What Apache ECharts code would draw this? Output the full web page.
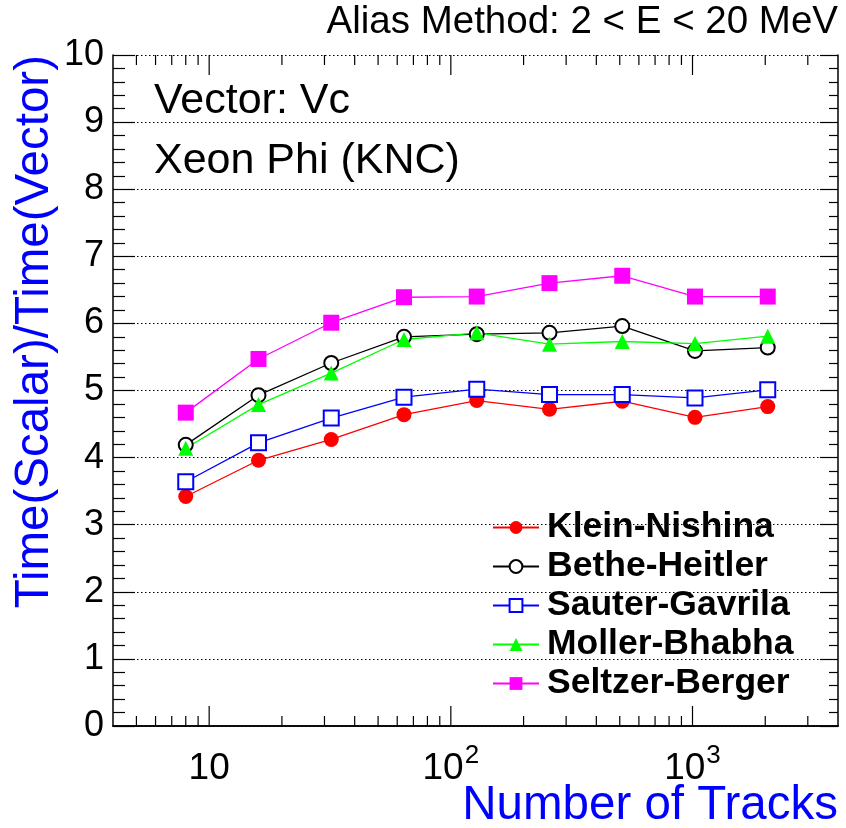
<!DOCTYPE html>
<html>
<head>
<meta charset="utf-8">
<script src="https://cdn.jsdelivr.net/npm/echarts@6/dist/echarts.min.js"></script>
<style>
  html, body { margin: 0; padding: 0; background: #fff; }
  #chart { width: 846px; height: 828px; }
</style>
</head>
<body>
<div id="chart"></div>
<script>
// number of tracks (x) and speed-up ratios per model
const tracks = [8, 16, 32, 64, 128, 256, 512, 1024, 2048]
const kleinNishina = [3.42, 3.96, 4.27, 4.64, 4.85, 4.72, 4.84, 4.60, 4.76]
const betheHeitler = [4.19, 4.93, 5.41, 5.80, 5.84, 5.86, 5.96, 5.59, 5.64]
const sauterGavrila = [3.64, 4.22, 4.59, 4.90, 5.02, 4.94, 4.94, 4.89, 5.01]
const mollerBhabha = [4.14, 4.79, 5.26, 5.76, 5.86, 5.69, 5.73, 5.70, 5.81]
const seltzerBerger = [4.67, 5.47, 6.01, 6.39, 6.40, 6.60, 6.71, 6.40, 6.40]

// log axis ticks (ROOT style)
const majorTicks = [10, 100, 1000]
const minorTicks = [5, 6, 7, 8, 9, 20, 30, 40, 50, 60, 70, 80, 90,
  200, 300, 400, 500, 600, 700, 800, 900, 2000, 3000]

const FONT = 'Liberation Sans, Arial, Helvetica, sans-serif'

const chart = echarts.init(document.getElementById('chart'))

const pairs = (ys) => tracks.map((x, i) => [x, ys[i]])

function mkSeries(name, ys, symbol, size, color, filled) {
  return {
    name: name,
    type: 'line',
    data: pairs(ys),
    symbol: symbol,
    symbolSize: size,
    showAllSymbol: true,
    lineStyle: { color: color, width: 1.3 },
    itemStyle: filled ? { color: color } : { color: color, borderColor: color, borderWidth: 1.5 },
    z: 3
  }
}

const tickData = majorTicks.map(v => [v, 1]).concat(minorTicks.map(v => [v, 0]))

// x ticks drawn through the log scale
function renderTick(params, api) {
  const v = api.value(0)
  const len = api.value(1) ? 20 : 10
  const b = api.coord([v, 0])
  const t = api.coord([v, 10])
  const st = { stroke: '#000', lineWidth: 1.2 }
  return {
    type: 'group',
    children: [
      { type: 'line', shape: { x1: b[0], y1: b[1], x2: b[0], y2: b[1] - len }, style: st },
      { type: 'line', shape: { x1: t[0], y1: t[1], x2: t[0], y2: t[1] + len }, style: st }
    ]
  }
}

function xLabel(v) {
  const p = Math.log10(v)
  const r = Math.round(p)
  if (Math.abs(p - r) > 1e-6 || r < 1) return ''
  if (r === 1) return '{b|10}'
  return '{b|10}{s|' + r + '}'
}

const yAxisBase = {
  type: 'value',
  min: 0,
  max: 10,
  interval: 1,
  axisLine: { show: true, lineStyle: { color: '#000', width: 1.5 } },
  axisTick: { show: true, inside: true, length: 22, lineStyle: { color: '#000', width: 1.2 } },
  minorTick: { show: true, splitNumber: 5, length: 12, lineStyle: { color: '#000', width: 1.2 } }
}

const option = {
  animation: false,
  backgroundColor: '#fff',
  textStyle: { fontFamily: FONT },
  grid: { left: 113, right: 8, top: 55, bottom: 102 },
  legend: {
    data: ['Klein-Nishina', 'Bethe-Heitler', 'Sauter-Gavrila', 'Moller-Bhabha', 'Seltzer-Berger'],
    orient: 'vertical',
    left: 487,
    top: 503,
    itemWidth: 46,
    itemHeight: 16,
    itemGap: 0,
    textStyle: { fontFamily: FONT, fontWeight: 'bold', fontSize: 35.5, color: '#000', lineHeight: 39, padding: [0, 0, 0, 3] },
    selectedMode: false
  },
  xAxis: [{
    type: 'log',
    logBase: 10,
    min: 4,
    max: 4000,
    axisLine: { show: true, lineStyle: { color: '#000', width: 1.5 } },
    axisTick: { show: false },
    splitLine: { show: false },
    axisLabel: {
      margin: 17,
      formatter: xLabel,
      rich: {
        b: { fontSize: 37, fontFamily: FONT, color: '#000', lineHeight: 44, verticalAlign: 'bottom' },
        s: { fontSize: 26, fontFamily: FONT, color: '#000', lineHeight: 44, verticalAlign: 'top', padding: [0, 0, 0, 1] }
      }
    }
  }, {
    type: 'log',
    logBase: 10,
    min: 4,
    max: 4000,
    position: 'top',
    axisLine: { show: true, lineStyle: { color: '#000', width: 1.5 } },
    axisTick: { show: false },
    axisLabel: { show: false },
    splitLine: { show: false }
  }],
  yAxis: [Object.assign({}, yAxisBase, {
    position: 'left',
    axisLabel: { fontSize: 36, color: '#000', fontFamily: FONT, margin: 9 },
    splitLine: { show: true, lineStyle: { color: '#000', type: [1.5, 2.5], width: 1.2 } }
  }), Object.assign({}, yAxisBase, {
    position: 'right',
    axisTick: { show: true, inside: true, length: 18, lineStyle: { color: '#000', width: 1.2 } },
    minorTick: { show: true, splitNumber: 5, length: 9, lineStyle: { color: '#000', width: 1.2 } },
    axisLabel: { show: false },
    splitLine: { show: false }
  })],
  graphic: [
    { type: 'text', x: 838, y: 22, style: { text: 'Alias Method: 2 < E < 20 MeV', fontSize: 38.5, fontFamily: FONT, fill: '#000', align: 'right', verticalAlign: 'middle' } },
    { type: 'text', x: 154, y: 101, style: { text: 'Vector: Vc', fontSize: 43, fontFamily: FONT, fill: '#000', align: 'left', verticalAlign: 'middle' } },
    { type: 'text', x: 154, y: 161, style: { text: 'Xeon Phi (KNC)', fontSize: 43, fontFamily: FONT, fill: '#000', align: 'left', verticalAlign: 'middle' } },
    { type: 'text', x: 35, y: 55, rotation: Math.PI / 2, style: { text: 'Time(Scalar)/Time(Vector)', fontSize: 47.5, fontFamily: FONT, fill: '#0000ff', align: 'right', verticalAlign: 'middle' } },
    { type: 'text', x: 838, y: 806, style: { text: 'Number of Tracks', fontSize: 47.5, fontFamily: FONT, fill: '#0000ff', align: 'right', verticalAlign: 'middle' } }
  ],
  series: [
    mkSeries('Klein-Nishina', kleinNishina, 'circle', 15, '#ff0000', true),
    mkSeries('Bethe-Heitler', betheHeitler, 'emptyCircle', 14, '#000000', false),
    mkSeries('Sauter-Gavrila', sauterGavrila, 'emptyRect', 15, '#0000ff', false),
    mkSeries('Moller-Bhabha', mollerBhabha, 'triangle', 15, '#00ff00', true),
    mkSeries('Seltzer-Berger', seltzerBerger, 'rect', 16, '#ff00ff', true),
    {
      type: 'custom',
      name: 'ticks',
      data: tickData,
      renderItem: renderTick,
      silent: true,
      clip: false,
      z: 5
    }
  ]
}

chart.setOption(option)
</script>
</body>
</html>
